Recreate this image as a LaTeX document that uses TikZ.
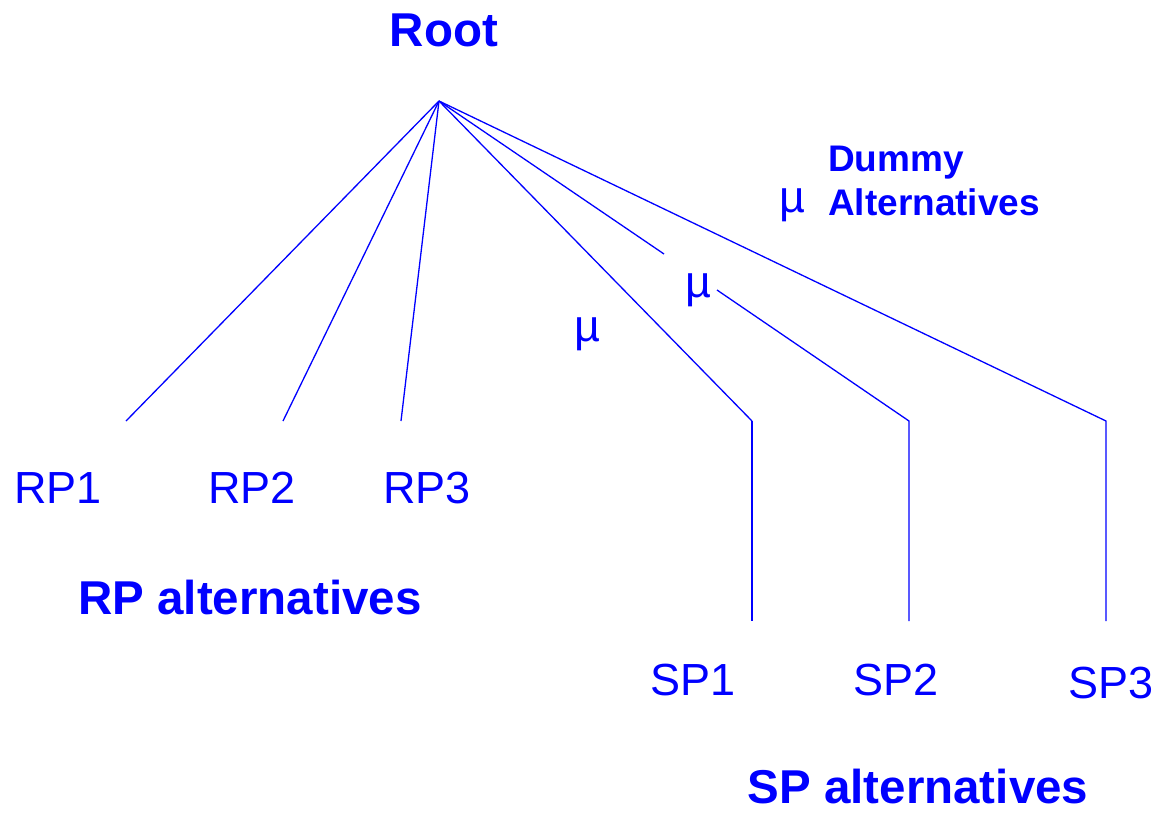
\documentclass[tikz,border=0pt]{standalone}
\usepackage{fontspec}
\setmainfont{Liberation Sans}
\begin{document}
\begin{tikzpicture}[x=1pt,y=-1pt,
  link/.style={draw=blue,line width=1.3pt},
  lbl/.style={text=blue,inner sep=0pt,anchor=base,font=\fontsize{45}{50}\selectfont},
  big/.style={text=blue,inner sep=0pt,anchor=base,font=\fontsize{47.5}{50}\selectfont\bfseries},
  mid/.style={text=blue,inner sep=0pt,anchor=base west,font=\fontsize{37}{44}\selectfont\bfseries},
  mu/.style={text=blue,inner sep=0pt,anchor=base,font=\fontsize{45}{50}\selectfont}]
\useasboundingbox (0,0) rectangle (1162,812);
% title
\node[big] (roottxt) at (444,46) {Root};
% coordinates
\coordinate (r) at (439,101);
\coordinate (rp1t) at (126,421);
\coordinate (rp2t) at (283,421);
\coordinate (rp3t) at (401,421);
\coordinate (sp1b) at (752,421);
\coordinate (sp1e) at (752,621);
\coordinate (sp2b) at (909,421);
\coordinate (sp2e) at (909,621);
\coordinate (sp3b) at (1106,421);
\coordinate (sp3e) at (1106,621);
\coordinate (gapa) at (664,254);
\coordinate (gapb) at (717,290);
% connectors
\draw[link] (r) -- (rp1t);
\draw[link] (r) -- (rp2t);
\draw[link] (r) -- (rp3t);
\draw[link] (r) -- (sp1b);
\draw[draw=blue,line width=2pt] (sp1b) -- (sp1e);
\draw[link] (r) -- (gapa);
\draw[link] (gapb) -- (sp2b) -- (sp2e);
\draw[link] (r) -- (sp3b) -- (sp3e);
% labels
\node[lbl] (rp1) at (58,503) {RP1};
\node[lbl] (rp2) at (252,503) {RP2};
\node[lbl] (rp3) at (427,503) {RP3};
\node[big] (rpalt) at (250,614) {RP alternatives};
\node[lbl] (sp1) at (693,695) {SP1};
\node[lbl] (sp2) at (896,695) {SP2};
\node[lbl] (sp3) at (1111,698) {SP3};
\node[big] (spalt) at (918,803) {SP alternatives};
\node[mid] (dummy) at (828,171) {Dummy};
\node[mid] (alts) at (828,215) {Alternatives};
\node[mu] (mu1) at (587,341) {µ};
\node[mu] (mu2) at (698,297) {µ};
\node[mu] (mu3) at (792,212) {µ};
\end{tikzpicture}
\end{document}
